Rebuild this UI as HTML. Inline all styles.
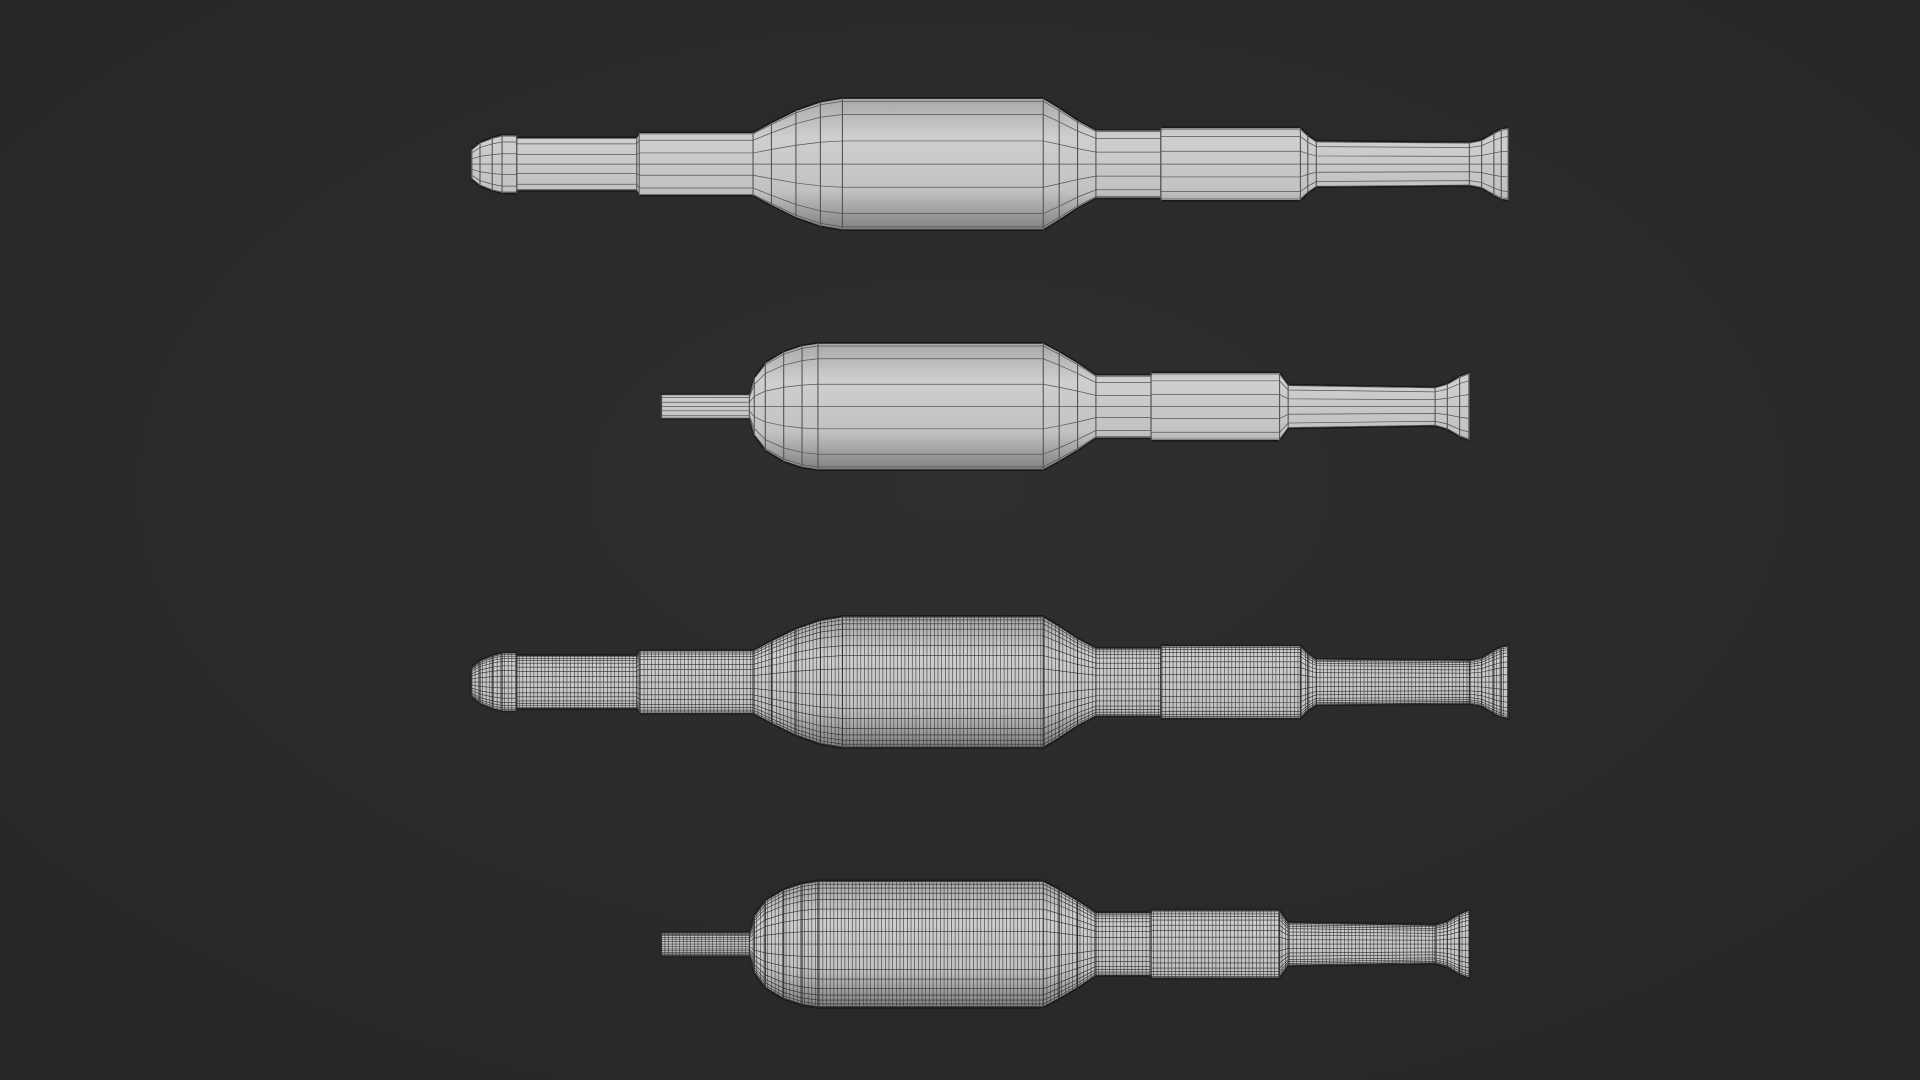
<!DOCTYPE html>
<html><head><meta charset="utf-8"><style>
html,body{margin:0;padding:0;width:1920px;height:1080px;overflow:hidden;background:#2b2b2b}
svg{display:block}
</style></head><body>
<svg id="s" width="1920" height="1080" viewBox="0 0 1568 882" preserveAspectRatio="none" xmlns="http://www.w3.org/2000/svg">
<defs>
<radialGradient id="bg" cx="50%" cy="45%" r="70%">
<stop offset="0" stop-color="#2f2f2f"/><stop offset="1" stop-color="#262626"/>
</radialGradient>
<linearGradient id="sh" x1="0" y1="0" x2="0" y2="1">
<stop offset="0" stop-color="#a8a8a8"/><stop offset="0.3" stop-color="#cfcfcf"/><stop offset="0.7" stop-color="#c2c2c2"/><stop offset="1" stop-color="#808080"/>
</linearGradient>
</defs>
<rect width="1568" height="882" fill="url(#bg)"/>
<g id="g"></g>
</svg>
<script>
var A=[[385,12],[392,18],[402,22],[410,24],[422,24],[422,22],[520,22],[522,26],[615,26],[630,34],[650,44],[670,51],[688,54],[852,54],[865,46],[880,36],[895,28],[948,28],[948,30],[1062,30],[1068,24],[1075,19],[1200,18],[1210,20],[1220,26],[1226,29],[1232,30]];
var B=[[540,10],[612,10],[616,24],[625,36],[640,45],[655,50],[668,52],[852,52],[865,45],[880,36],[895,26],[940,26],[940,28],[1045,28],[1052,18],[1172,16],[1182,19],[1192,25],[1200,28]];
var g=document.getElementById('g'),NS='http://www.w3.org/2000/svg';
function el(t,a){var e=document.createElementNS(NS,t);for(var k in a)e.setAttribute(k,a[k]);g.appendChild(e);return e;}
function h(P,x){for(var i=0;i<P.length-1;i++){if(x>=P[i][0]&&x<=P[i+1][0]){var d=P[i+1][0]-P[i][0];if(d==0)return Math.max(P[i][1],P[i+1][1]);return P[i][1]+(P[i+1][1]-P[i][1])*(x-P[i][0])/d;}}return 0;}
function draw(P,cy,dense){
 var t='',b='';
 P.forEach(function(p){t+=p[0]+','+(cy-p[1])+' ';});
 P.slice().reverse().forEach(function(p){b+=p[0]+','+(cy+p[1])+' ';});
 el('polygon',{points:t+b,fill:'url(#sh)',stroke:'#1a1a1a','stroke-width':1.4});
 var col=dense?'#2e2e2e':'#555',sw=dense?0.5:0.6;
 P.forEach(function(p){el('line',{x1:p[0],x2:p[0],y1:cy-p[1],y2:cy+p[1],stroke:col,'stroke-width':0.9});});
 if(dense){var x0=P[0][0],x1=P[P.length-1][0];for(var x=x0;x<x1;x+=3){var hh=h(P,x);el('line',{x1:x,x2:x,y1:cy-hh,y2:cy+hh,stroke:'#3a3a3a','stroke-width':0.5});}}
 var rings=dense?[0.2,0.4,0.55,0.7,0.8,0.88,0.94,0.98,-0.2,-0.4,-0.55,-0.7,-0.8,-0.88,-0.94,-0.98,0]:[0.35,0.75,0.95,-0.35,-0.75,-0.95,0];
 rings.forEach(function(f){var d='';P.forEach(function(p,i){d+=(i?'L':'M')+p[0]+','+(cy-f*p[1]);});el('path',{d:d,fill:'none',stroke:col,'stroke-width':sw});});
}
draw(A,134,false);draw(B,332,false);draw(A,557,true);draw(B,771,true);
</script>
</body></html>
